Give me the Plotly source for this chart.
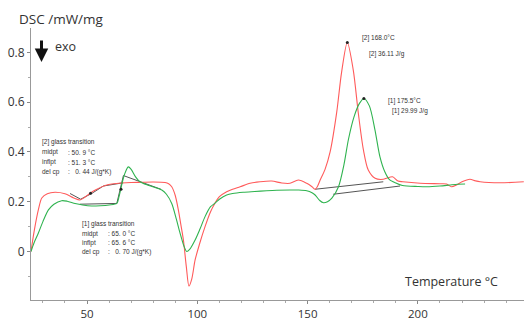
import plotly.graph_objects as go

# ---------------- data ----------------
temp_red = [24.6, 26, 28, 29.5, 32, 35.5, 40, 44, 46.8, 49, 51.4, 54, 58.2, 62, 65.7, 70, 74.8, 80, 85.4, 87,
            88.4, 90, 91.4, 92.5, 93.7, 95, 96.2, 97.5, 99, 101, 103.5, 106, 108, 110, 113.3, 116, 119.4, 123.9,
            128.4, 133.7, 138.3, 142, 145.8, 149.6, 152, 153.4, 154.5, 155.6, 157.9, 160.2, 163.2, 165.4, 168.0,
            170.7, 173, 175.3, 177.5, 180.6, 184.3, 186, 188.5, 191, 193.2, 201, 210, 213, 215.2, 217.5, 220,
            223.6, 226, 228.2, 237.2, 248]
dsc_red = [0.0, 0.08, 0.17, 0.215, 0.232, 0.238, 0.232, 0.215, 0.207, 0.218, 0.234, 0.248, 0.265, 0.272, 0.275,
           0.277, 0.278, 0.279, 0.277, 0.272, 0.26, 0.225, 0.167, 0.11, 0.046, -0.06, -0.139, -0.11, -0.034, 0.03,
           0.1, 0.16, 0.194, 0.22, 0.24, 0.25, 0.26, 0.274, 0.28, 0.283, 0.275, 0.274, 0.287, 0.274, 0.26, 0.25,
           0.262, 0.285, 0.33, 0.4, 0.56, 0.72, 0.84, 0.729, 0.555, 0.408, 0.327, 0.294, 0.29, 0.295, 0.3,
           0.283, 0.28, 0.274, 0.272, 0.271, 0.26, 0.267, 0.28, 0.29, 0.284, 0.28, 0.276, 0.28]

temp_green = [24.6, 26, 27.9, 30, 32.5, 35, 38.5, 41, 44.6, 48, 52.1, 56, 60, 63.5, 64.5, 65.7, 67, 68.7, 70, 72,
              74, 78, 83.9, 86, 88.4, 90.5, 92.2, 94, 95.2, 96.5, 99, 101.2, 103.5, 106, 108, 110, 113.3, 116,
              120.8, 126, 131.4, 136, 142, 146, 149.6, 152, 153.4, 155.5, 157.2, 159, 161, 164, 166.5, 168.5, 171,
              173.5, 175.5, 178, 180.5, 182.8, 185, 187, 190, 193, 200, 204, 210, 214.5, 218, 221.4]
dsc_green = [0.0, 0.035, 0.073, 0.12, 0.167, 0.19, 0.204, 0.202, 0.193, 0.187, 0.183, 0.184, 0.187, 0.193, 0.22,
             0.267, 0.31, 0.34, 0.33, 0.3, 0.28, 0.265, 0.247, 0.23, 0.193, 0.13, 0.073, 0.02, 0.0, 0.008, 0.046,
             0.09, 0.14, 0.18, 0.194, 0.21, 0.227, 0.233, 0.238, 0.241, 0.244, 0.246, 0.247, 0.247, 0.244, 0.236,
             0.227, 0.205, 0.196, 0.2, 0.214, 0.26, 0.35, 0.45, 0.54, 0.595, 0.615, 0.585, 0.49, 0.38, 0.32, 0.29,
             0.275, 0.265, 0.261, 0.26, 0.263, 0.267, 0.27, 0.271]

# evaluation construction lines (glass transitions and peak baselines)
gt2_temp = [42.3, 47.1, 52.1, 57.4, 66.4]
gt2_dsc = [0.233, 0.21, 0.233, 0.263, 0.276]
gt1_temp = [46.8, 63.5, 66.5, 83.5]
gt1_dsc = [0.19, 0.193, 0.305, 0.25]
base2_temp = [153.4, 184.3]
base2_dsc = [0.25, 0.28]
base1_temp = [161.6, 191.9]
base1_dsc = [0.23, 0.263]

mark_temp = [168.0, 175.5, 51.6, 65.4]
mark_dsc = [0.84, 0.615, 0.234, 0.25]

x_ticks = [50, 100, 150, 200]
y_ticks = [0, 0.2, 0.4, 0.6, 0.8]

RED = "#ff5a5a"
GREEN = "#2fb34f"
LINE = "#555555"

fig = go.Figure()
for tx, ty in [(gt2_temp, gt2_dsc), (gt1_temp, gt1_dsc), (base2_temp, base2_dsc), (base1_temp, base1_dsc)]:
    fig.add_trace(go.Scatter(x=tx, y=ty, mode="lines", line=dict(color=LINE, width=1), hoverinfo="skip"))
fig.add_trace(go.Scatter(x=temp_red, y=dsc_red, mode="lines", line=dict(color=RED, width=1.1, shape="spline", smoothing=0.8)))
fig.add_trace(go.Scatter(x=temp_green, y=dsc_green, mode="lines", line=dict(color=GREEN, width=1.1, shape="spline", smoothing=0.8)))
fig.add_trace(go.Scatter(x=mark_temp, y=mark_dsc, mode="markers", marker=dict(color="#222", size=3)))

W, H = 524, 320
L, R, T, B = 31, 0, 28, 20
pw, ph = W - L - R, H - T - B


def px(x):
    return (x - L) / pw


def py(y):
    return (H - B - y) / ph


small = dict(family="Liberation Sans, Arial", size=6.5, color="#333")
anns = []


def txt(x, y, s, font=small, xanchor="left"):
    anns.append(dict(x=px(x), y=py(y), xref="paper", yref="paper", text=s, showarrow=False,
                     xanchor=xanchor, yanchor="middle", font=font))


# glass transition [2]
txt(40, 142, "[2] glass transition")
for i, (a, b) in enumerate([("midpt", ": 50. 9 °C"), ("inflpt", ": 51. 3 °C"), ("del cp", ":\u00a0\u00a0\u00a00. 44 J/(g*K)")]):
    txt(40, 152 + 10 * i, a)
    txt(66, 152 + 10 * i, b)
# glass transition [1]
txt(80, 224, "[1] glass transition")
for i, (a, b) in enumerate([("midpt", ": 65. 0 °C"), ("inflpt", ": 65. 6 °C"), ("del cp", ":\u00a0\u00a0\u00a00. 70 J/(g*K)")]):
    txt(80, 233.5 + 9.3 * i, a)
    txt(106, 233.5 + 9.3 * i, b)
# peaks
txt(360, 38, "[2] 168.0°C")
txt(367, 54, "[2] 36.11 J/g")
txt(386, 101, "[1] 175.5°C")
txt(390, 111, "[1] 29.99 J/g")

big = dict(family="Open Sans", size=12.5, color="#333")
txt(17, 19, "DSC /mW/mg", font=dict(family="Open Sans", size=13.5, color="#333"))
txt(53, 47, "exo", font=big)
txt(500, 281, "Temperature °C", font=big, xanchor="right")

# exo arrow
anns.append(dict(x=px(41.5), y=py(62), xref="paper", yref="paper", ax=0, ay=-23, axref="pixel", ayref="pixel",
                 text="", showarrow=True, arrowhead=2, arrowsize=0.9, arrowwidth=3, arrowcolor="#111"))

fig.update_layout(
    width=W, height=H, margin=dict(l=L, r=R, t=T, b=B, autoexpand=False),
    plot_bgcolor="white", paper_bgcolor="white", showlegend=False,
    annotations=anns,
    xaxis=dict(range=[24.6, 248.1], tickvals=x_ticks, ticks="outside", ticklen=3, tickcolor="#888",
               showline=True, linecolor="#999", linewidth=1, showgrid=False, zeroline=False, automargin=False,
               tickfont=dict(family="Open Sans", size=11.5, color="#333"),
               minor=dict(dtick=10, tick0=0, ticks="outside", ticklen=2, tickcolor="#aaa")),
    yaxis=dict(range=[-0.195, 0.898], tickvals=y_ticks, ticktext=["0", "0.2", "0.4", "0.6", "0.8"],
               ticks="outside", ticklen=3, tickcolor="#888", automargin=False,
               showline=True, linecolor="#999", linewidth=1, showgrid=False, zeroline=False,
               tickfont=dict(family="Open Sans", size=12, color="#333"),
               minor=dict(dtick=0.1, tick0=0, ticks="outside", ticklen=2, tickcolor="#aaa")),
)

fig.write_html("out.html", config={"displayModeBar": False},
               post_script="document.body.style.margin='0';document.body.style.overflow='hidden';")
